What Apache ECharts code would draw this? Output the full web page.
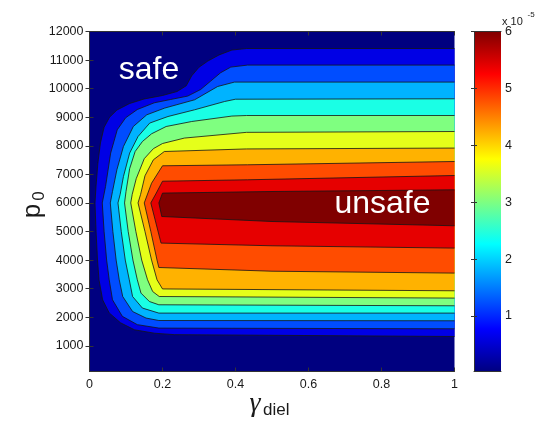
<!DOCTYPE html>
<html><head><meta charset="utf-8">
<script src="https://cdn.jsdelivr.net/npm/echarts@6/dist/echarts.min.js"></script>
<style>html,body{margin:0;padding:0;background:#fff}#c{width:537px;height:421px}</style>
</head><body><div id="c"></div>
<script>
// ---- data (gamma_diel, p0) ----
const gammaTicks = [0, 0.2, 0.4, 0.6, 0.8, 1];
const pTicks = [1000, 2000, 3000, 4000, 5000, 6000, 7000, 8000, 9000, 10000, 11000, 12000];
const cbTicks = [1, 2, 3, 4, 5, 6];          // x 1e-5
const cbMin = 0.025, cbMax = 6.0;              // colour scale range (x 1e-5)
const levels = [0.62, 1.22, 1.82, 2.42, 3.01, 3.61, 4.21, 4.81, 5.40, 6.0]; // contour levels (x 1e-5)

const contour1 = [[1,11405],[0.43,11405],[0.39,11350],[0.355,11180],[0.324,10964],[0.3,10750],[0.28,10450],[0.265,10100],[0.24,9900],[0.2,9760],[0.15,9640],[0.11,9480],[0.075,9250],[0.055,9000],[0.04,8650],[0.03,8100],[0.023,7400],[0.018,6600],[0.015,6000],[0.018,5000],[0.022,4000],[0.026,3310],[0.036,2610],[0.054,2150],[0.085,1805],[0.123,1560],[0.178,1440],[0.232,1390],[1,1325]];
const contour2 = [[1,10824],[0.433,10824],[0.387,10754],[0.359,10555],[0.332,10264],[0.3045,9970],[0.269,9739],[0.222,9620],[0.1775,9505],[0.131,9270],[0.099,8980],[0.076,8560],[0.058,7745],[0.044,6575],[0.035,6000],[0.04,5000],[0.047,4000],[0.054,3310],[0.063,2610],[0.09,2030],[0.131,1740],[0.19,1619],[1,1595]];
const contour3 = [[1,10229],[0.397,10229],[0.351,10075],[0.288,9610],[0.206,9320],[0.157,9085],[0.12,8675],[0.093,7975],[0.075,7160],[0.063,6400],[0.057,6000],[0.064,5000],[0.073,4000],[0.0815,3310],[0.091,2725],[0.118,2200],[0.155,1970],[0.19,1885],[1,1875]];
const contour4 = [[1,9645],[0.40,9630],[0.37,9550],[0.288,9260],[0.215,9025],[0.165,8795],[0.133,8325],[0.11,7745],[0.093,6925],[0.084,6300],[0.078,6000],[0.087,5000],[0.098,4000],[0.109,3310],[0.118,2725],[0.145,2320],[0.19,2144],[1,2144]];
const contour5 = [[1,9060],[0.43,9060],[0.39,9040],[0.28,8850],[0.21,8675],[0.17,8420],[0.145,8150],[0.125,7800],[0.11,7200],[0.1,6400],[0.096,6000],[0.106,5000],[0.119,4000],[0.131,3310],[0.141,2844],[0.164,2550],[0.19,2435],[1,2400]];
const contour6 = [[1,8500],[0.43,8470],[0.26,8270],[0.2,8080],[0.175,7900],[0.15,7550],[0.128,6850],[0.117,6300],[0.113,6000],[0.127,5000],[0.143,4000],[0.159,3310],[0.173,2900],[0.191,2725],[1,2669]];
const contour7 = [[1,7920],[0.43,7890],[0.205,7800],[0.175,7510],[0.152,6950],[0.14,6300],[0.133,6000],[0.152,5000],[0.17,4000],[0.185,3310],[0.2,2990],[1,2925]];
const contour8 = [[1,7450],[0.433,7335],[0.2,7300],[0.17,6690],[0.15,6000],[0.168,5000],[0.185,4000],[0.19,3740],[0.5,3610],[1,3544]];
const contour9 = [[1,6960],[0.433,6810],[0.2,6760],[0.183,6345],[0.168,6000],[0.196,4594],[0.5,4500],[1,4419]];
const contour10 = [[1,6460],[0.5,6400],[0.2,6344],[0.19,6000],[0.198,5525],[0.5,5350],[1,5200]];
const contours = [contour1, contour2, contour3, contour4, contour5, contour6, contour7, contour8, contour9, contour10];

// ---- jet colour map ----
function jet(f) {
  const c = v => Math.round(255 * Math.max(0, Math.min(1, v)));
  return 'rgb(' + c(1.5 - Math.abs(4 * f - 3)) + ',' + c(1.5 - Math.abs(4 * f - 2)) + ',' + c(1.5 - Math.abs(4 * f - 1)) + ')';
}
const frac = v => (v - cbMin) / (cbMax - cbMin);

const FONT = '"Liberation Sans", Arial, sans-serif';
const chart = echarts.init(document.getElementById('c'), null, {renderer: 'canvas'});
const axisCol = '#333';
const labelStyle = {color: '#1a1a1a', fontSize: 12.5, fontFamily: FONT, formatter: v => String(v)};

chart.setOption({
  animation: false,
  backgroundColor: '#fff',
  grid: [
    {left: 89.5, top: 31.5, width: 365, height: 340, show: true, backgroundColor: jet(0), borderWidth: 0},
    {left: 474, top: 31.5, width: 27, height: 340, show: false}
  ],
  xAxis: [
    {gridIndex: 0, type: 'value', min: 0, max: 1, interval: 0.2, position: 'bottom', z: 10,
     axisLine: {show: true, lineStyle: {color: axisCol}}, axisTick: {show: true, inside: true, length: 4, lineStyle: {color: axisCol}},
     axisLabel: Object.assign({margin: 7, customValues: gammaTicks}, labelStyle), splitLine: {show: false}},
    {gridIndex: 0, type: 'value', min: 0, max: 1, interval: 0.2, position: 'top', z: 10,
     axisLine: {show: true, lineStyle: {color: axisCol}}, axisTick: {show: true, inside: true, length: 4, lineStyle: {color: axisCol}},
     axisLabel: {show: false}, splitLine: {show: false}},
    {gridIndex: 1, type: 'value', min: 0, max: 1, position: 'bottom', z: 10,
     axisLine: {show: true, lineStyle: {color: axisCol}}, axisTick: {show: false}, axisLabel: {show: false}, splitLine: {show: false}},
    {gridIndex: 1, type: 'value', min: 0, max: 1, position: 'top', z: 10,
     axisLine: {show: true, lineStyle: {color: axisCol}}, axisTick: {show: false}, axisLabel: {show: false}, splitLine: {show: false}}
  ],
  yAxis: [
    {gridIndex: 0, type: 'value', min: 100, max: 12000, position: 'left', z: 10,
     axisLine: {show: true, lineStyle: {color: axisCol}},
     axisTick: {show: true, inside: true, length: 4, customValues: pTicks, lineStyle: {color: axisCol}},
     axisLabel: Object.assign({margin: 6, customValues: pTicks}, labelStyle), splitLine: {show: false}},
    {gridIndex: 0, type: 'value', min: 100, max: 12000, position: 'right', z: 10,
     axisLine: {show: true, lineStyle: {color: axisCol}},
     axisTick: {show: true, inside: true, length: 4, customValues: pTicks, lineStyle: {color: axisCol}},
     axisLabel: {show: false}, splitLine: {show: false}},
    {gridIndex: 1, type: 'value', min: cbMin, max: cbMax, position: 'right', z: 10,
     axisLine: {show: true, lineStyle: {color: axisCol}},
     axisTick: {show: true, inside: true, length: 3, customValues: cbTicks, lineStyle: {color: axisCol}},
     axisLabel: Object.assign({margin: 4, customValues: cbTicks}, labelStyle), splitLine: {show: false}},
    {gridIndex: 1, type: 'value', min: cbMin, max: cbMax, position: 'left', z: 10,
     axisLine: {show: true, lineStyle: {color: axisCol}},
     axisTick: {show: true, inside: true, length: 3, customValues: cbTicks, lineStyle: {color: axisCol}},
     axisLabel: {show: false}, splitLine: {show: false}}
  ],
  series: [
    {
      type: 'custom', xAxisIndex: 0, yAxisIndex: 0, clip: true, silent: true,
      data: contours.map((c, i) => [c[0][0], c[0][1], i]),
      encode: {x: 0, y: 1},
      renderItem: function (params, api) {
        const idx = api.value(2);
        const pts = contours[idx].map(pt => api.coord(pt));
        const col = jet(frac(levels[idx]));
        return {
          type: 'group',
          children: [
            {type: 'polygon', shape: {points: pts}, style: {fill: col, stroke: null}},
            {type: 'polyline', shape: {points: pts}, style: {fill: null, stroke: '#151515', lineWidth: 0.8}}
          ]
        };
      }
    },
    {
      type: 'custom', xAxisIndex: 2, yAxisIndex: 2, silent: true,
      data: [[0, cbMin]],
      renderItem: function (params, api) {
        const p0 = api.coord([0, cbMin]);
        const p1 = api.coord([1, cbMax]);
        const stops = [0, 0.125, 0.375, 0.625, 0.875, 1].map(f => ({offset: f, color: jet(f)}));
        return {
          type: 'rect',
          shape: {x: p0[0], y: p1[1], width: p1[0] - p0[0], height: p0[1] - p1[1]},
          style: {fill: new echarts.graphic.LinearGradient(0, 1, 0, 0, stops)}
        };
      }
    }
  ],
  graphic: [
    {type: 'text', x: 149, y: 70, z: 100, style: {text: 'safe', fill: '#fff', font: '32px ' + FONT, align: 'center', verticalAlign: 'middle', textAlign: 'center', textVerticalAlign: 'middle'}},
    {type: 'text', x: 382.5, y: 204, z: 100, style: {text: 'unsafe', fill: '#fff', font: '32px ' + FONT, align: 'center', verticalAlign: 'middle', textAlign: 'center', textVerticalAlign: 'middle'}},
    {type: 'text', x: 502, y: 22, z: 100, style: {text: 'x 10', fill: '#1a1a1a', font: '11px ' + FONT, align: 'left', verticalAlign: 'middle', textAlign: 'left', textVerticalAlign: 'middle'}},
    {type: 'text', x: 527.5, y: 14.5, z: 100, style: {text: '-5', fill: '#1a1a1a', font: '8px ' + FONT, align: 'left', verticalAlign: 'middle', textAlign: 'left', textVerticalAlign: 'middle'}},
    {type: 'text', x: 33, y: 211, rotation: Math.PI / 2, z: 100, style: {text: 'p', fill: '#1a1a1a', font: '26px ' + FONT, align: 'center', verticalAlign: 'middle', textAlign: 'center', textVerticalAlign: 'middle'}},
    {type: 'text', x: 39, y: 196, rotation: Math.PI / 2, z: 100, style: {text: '0', fill: '#1a1a1a', font: '17px ' + FONT, align: 'center', verticalAlign: 'middle', textAlign: 'center', textVerticalAlign: 'middle'}},
    {type: 'text', x: 255, y: 404, z: 100, style: {text: 'γ', fill: '#1a1a1a', font: 'italic 28px "Liberation Serif", serif', align: 'center', verticalAlign: 'middle', textAlign: 'center', textVerticalAlign: 'middle'}},
    {type: 'text', x: 263, y: 410, z: 100, style: {text: 'diel', fill: '#1a1a1a', font: '17px ' + FONT, align: 'left', verticalAlign: 'middle', textAlign: 'left', textVerticalAlign: 'middle'}}
  ]
});
</script>
</body></html>
